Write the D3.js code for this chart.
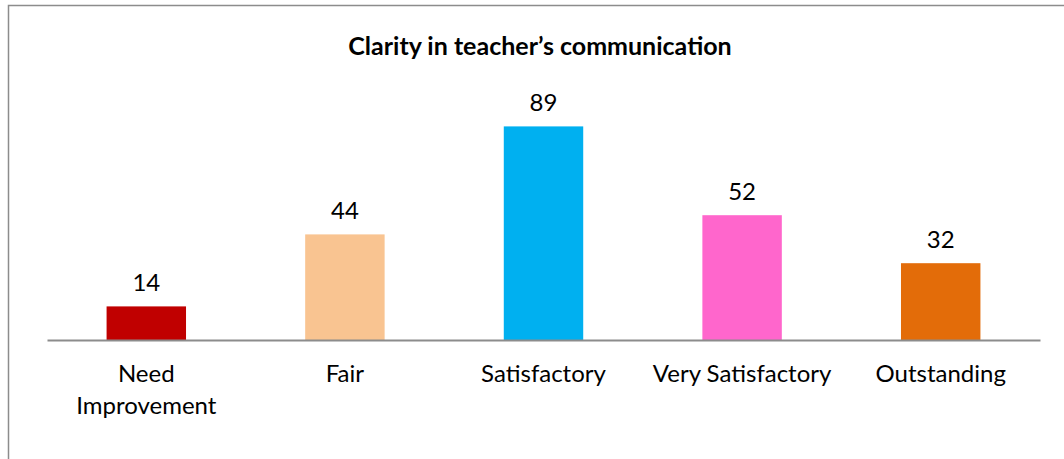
<!DOCTYPE html>
<html>
<head>
<meta charset="utf-8">
<script src="https://cdn.jsdelivr.net/npm/d3@7"></script>
<style>
  body { margin: 0; background: #fff; }
  svg text { font-family: Lato, "Open Sans", sans-serif; fill: #000; }
</style>
</head>
<body>
<svg width="1064" height="459"></svg>
<script>
var categories = ["Need Improvement", "Fair", "Satisfactory", "Very Satisfactory", "Outstanding"];
var labelLines = [["Need", "Improvement"], ["Fair"], ["Satisfactory"], ["Very Satisfactory"], ["Outstanding"]];
var values = [14, 44, 89, 52, 32];
var colors = ["#C00000", "#F9C491", "#00B0F0", "#FF66CC", "#E36C09"];
var title = "Clarity in teacher\u2019s communication";

var svg = d3.select("svg"),
    margin = {top: 100, right: 24, bottom: 119, left: 47},
    width = 1064 - margin.left - margin.right,
    height = 459 - margin.top - margin.bottom;

// outer chart frame (only top and left visible in the crop)
svg.append("path")
    .attr("d", "M8.5,459 V5.5 H1064")
    .attr("fill", "none")
    .attr("stroke", "#8c8c8c")
    .attr("stroke-width", 1.5);

svg.append("text")
    .attr("x", 540)
    .attr("y", 55)
    .attr("text-anchor", "middle")
    .style("font-size", "25px")
    .style("font-weight", "bold")
    .text(title);

var g = svg.append("g").attr("transform", "translate(" + margin.left + "," + margin.top + ")");

var x = d3.scaleBand().domain(categories).range([0, width]).paddingInner(0.6).paddingOuter(0.3);
var y = d3.scaleLinear().domain([0, 100]).range([height, 0]);

g.selectAll(".bar")
  .data(values)
  .enter().append("rect")
    .attr("class", "bar")
    .attr("x", function(d, i) { return x(categories[i]); })
    .attr("y", function(d) { return y(d); })
    .attr("width", x.bandwidth())
    .attr("height", function(d) { return height - y(d); })
    .attr("fill", function(d, i) { return colors[i]; });

g.selectAll(".val")
  .data(values)
  .enter().append("text")
    .attr("class", "val")
    .attr("x", function(d, i) { return x(categories[i]) + x.bandwidth() / 2; })
    .attr("y", function(d) { return y(d) - 15; })
    .attr("text-anchor", "middle")
    .style("font-size", "24px")
    .text(function(d) { return d; });

var xAxis = g.append("g")
    .attr("transform", "translate(0," + height + ")")
    .call(d3.axisBottom(x).tickSize(0).tickFormat(""));
xAxis.select(".domain").attr("stroke", "#8c8c8c").attr("stroke-width", 2);

categories.forEach(function(c, i) {
  var t = g.append("text")
      .attr("x", x(c) + x.bandwidth() / 2)
      .attr("y", height + 42)
      .attr("text-anchor", "middle")
      .style("font-size", "24px");
  labelLines[i].forEach(function(line, j) {
    t.append("tspan")
      .attr("x", x(c) + x.bandwidth() / 2)
      .attr("dy", j === 0 ? 0 : 32)
      .text(line);
  });
});
</script>
</body>
</html>
